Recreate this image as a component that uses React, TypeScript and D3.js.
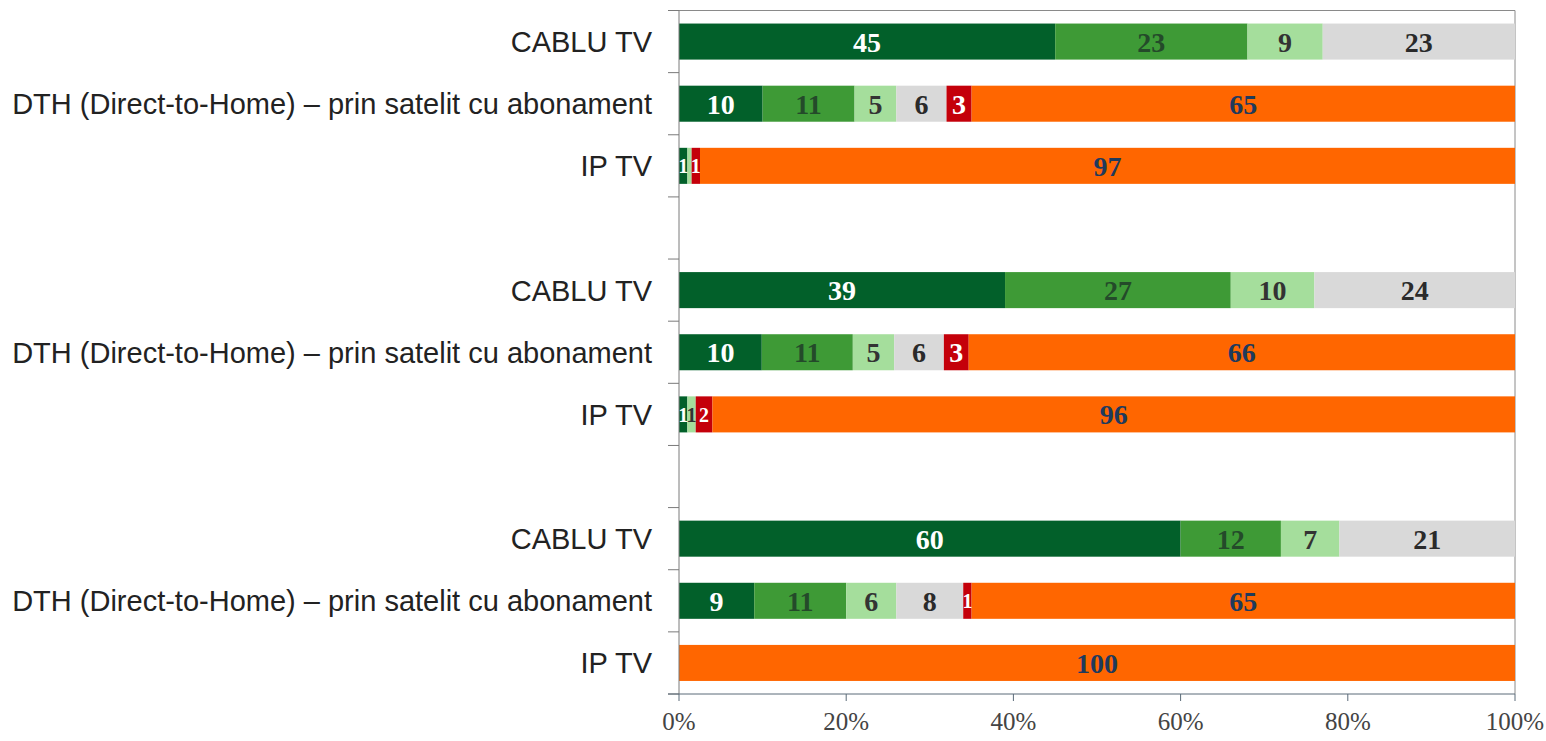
import React, { useEffect, useRef } from 'react'
import * as d3 from 'd3'

// row labels (three groups of the same three platforms)
const categories = ['CABLU TV', 'DTH (Direct-to-Home) – prin satelit cu abonament', 'IP TV']
const groups = ['g1', 'g2', 'g3']

// series values, one entry per row, in order g1 (cablu, dth, ip), g2 (...), g3 (...)
const darkGreen = [45, 10, 1, 39, 10, 1, 60, 9, 0]
const midGreen = [23, 11, 0, 27, 11, 0, 12, 11, 0]
const lightGreen = [9, 5, 0.5, 10, 5, 1, 7, 6, 0]
const grey = [23, 6, 0, 24, 6, 0, 21, 8, 0]
const red = [0, 3, 1, 0, 3, 2, 0, 1, 0]
const orange = [0, 65, 97, 0, 66, 96, 0, 65, 100]

const seriesKeys = ['darkGreen', 'midGreen', 'lightGreen', 'grey', 'red', 'orange']
const seriesValues = [darkGreen, midGreen, lightGreen, grey, red, orange]
const seriesColors = ['#02602a', '#3e9a36', '#a5de9c', '#d9d9d9', '#c4000a', '#ff6600']
const labelColors = ['#ffffff', '#244a2a', '#333333', '#2a2a2a', '#ffffff', '#1f3a5c']

const xTicks = [0, 0.2, 0.4, 0.6, 0.8, 1]

export default function App() {
  const ref = useRef<SVGSVGElement>(null)

  useEffect(() => {
    const svg = d3.select(ref.current)
    svg.selectAll('*').remove()

    const left = 679, right = 1515, top = 10.5, bottom = 694

    // build rows: each group of three, followed by an empty slot (except the last)
    let rows: any[] = []
    groups.forEach((g, gi) => {
      categories.forEach((c, ci) => {
        let idx = gi * categories.length + ci
        let row: any = { id: `${g}-${ci}`, label: c }
        seriesKeys.forEach((k, si) => { row[k] = seriesValues[si][idx] })
        rows.push(row)
      })
      if (gi < groups.length - 1) rows.push({ id: `${g}-gap`, label: '', empty: true })
    })
    const dataRows = rows.filter(r => !r.empty)

    let x = d3.scaleLinear().domain([0, 1]).range([left, right])
    let y = d3.scaleBand<string>()
      .domain(rows.map(r => r.id))
      .range([top, bottom])
      .paddingInner(0.42)
      .paddingOuter(0.21)

    // 100% stacked: each row normalised to its own total
    let stacked = d3.stack<any>().keys(seriesKeys).offset(d3.stackOffsetExpand)(dataRows)

    // plot frame (top and right edges)
    svg.append('line').attr('x1', left - 11).attr('x2', right).attr('y1', top).attr('y2', top)
      .attr('stroke', '#8a8a8a')
    svg.append('line').attr('x1', right).attr('x2', right).attr('y1', top).attr('y2', bottom)
      .attr('stroke', '#8a8a8a')

    let layer = svg.append('g').selectAll('g')
      .data(stacked)
      .enter().append('g')
      .attr('fill', (d, i) => seriesColors[i])

    layer.selectAll('rect')
      .data(d => d.map(p => ({ p, key: d.key })))
      .enter().append('rect')
      .attr('x', d => x(d.p[0]))
      .attr('y', d => y(d.p.data.id)!)
      .attr('width', d => Math.max(0, x(d.p[1]) - x(d.p[0])))
      .attr('height', y.bandwidth())

    // value labels
    stacked.forEach((s, si) => {
      s.forEach(p => {
        let v = p.data[s.key]
        if (v < 1) return
        svg.append('text')
          .attr('x', (x(p[0]) + x(p[1])) / 2)
          .attr('y', y(p.data.id)! + y.bandwidth() / 2)
          .attr('dy', '0.36em')
          .attr('text-anchor', 'middle')
          .attr('font-family', '"Liberation Serif", "DejaVu Serif", serif')
          .attr('font-weight', 'bold')
          .attr('font-size', v < 3 && s.key !== 'orange' ? 20 : 28)
          .attr('fill', labelColors[si])
          .text(Math.round(v))
      })
    })

    // left axis
    let yAxis = svg.append('g')
    yAxis.append('line').attr('x1', left).attr('x2', left).attr('y1', top).attr('y2', bottom)
      .attr('stroke', '#7a7a7a')
    let step = y.step()
    d3.range(rows.length + 1).forEach(i => {
      let yy = top + i * step
      yAxis.append('line').attr('x1', left - 11).attr('x2', left).attr('y1', yy).attr('y2', yy)
        .attr('stroke', '#7a7a7a')
    })
    dataRows.forEach(r => {
      yAxis.append('text')
        .attr('x', 652)
        .attr('y', y(r.id)! + y.bandwidth() / 2)
        .attr('dy', '0.36em')
        .attr('text-anchor', 'end')
        .attr('font-family', '"Liberation Sans", Arial, sans-serif')
        .attr('font-size', 29)
        .attr('fill', '#222')
        .text(r.label)
    })

    // bottom axis
    let xAxis = svg.append('g')
    xAxis.append('line').attr('x1', left - 11).attr('x2', right).attr('y1', bottom).attr('y2', bottom)
      .attr('stroke', '#5a6a78')
    xTicks.forEach(t => {
      xAxis.append('line').attr('x1', x(t)).attr('x2', x(t)).attr('y1', bottom).attr('y2', bottom + 7)
        .attr('stroke', '#5a6a78')
      xAxis.append('text')
        .attr('x', x(t))
        .attr('y', 730)
        .attr('text-anchor', 'middle')
        .attr('font-family', '"Liberation Serif", "DejaVu Serif", serif')
        .attr('font-size', 25)
        .attr('fill', '#444')
        .text(d3.format('.0%')(t))
    })
  }, [])

  return (
    <svg ref={ref} width={1546} height={741}
      style={{ position: 'absolute', left: 0, top: 0, background: '#fff' }} />
  )
}
